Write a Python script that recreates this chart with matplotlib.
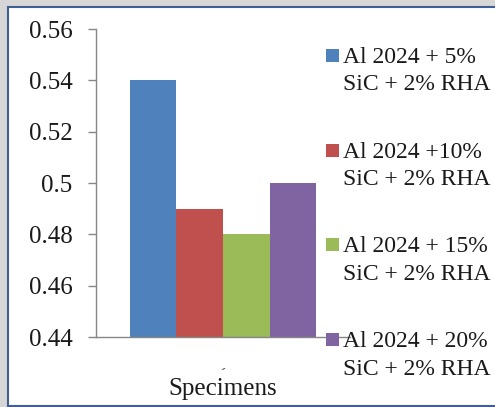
import numpy as np
import matplotlib.pyplot as plt
from matplotlib.patches import Rectangle
from matplotlib.ticker import FormatStrFormatter

# bar heights for the four composites
labels = ["Al 2024 + 5%\nSiC + 2% RHA",
          "Al 2024 +10%\nSiC + 2% RHA",
          "Al 2024 + 15%\nSiC + 2% RHA",
          "Al 2024 + 20%\nSiC + 2% RHA"]
values = [0.54, 0.49, 0.48, 0.50]
colors = ["#4F81BD", "#C0504D", "#9BBB59", "#8064A2"]
yticks = [0.44, 0.46, 0.48, 0.50, 0.52, 0.54, 0.56]

serif = ['Liberation Serif', 'DejaVu Serif']
plt.rcParams['font.family'] = serif

W, H = 495, 407
fig = plt.figure(figsize=(W / 100, H / 100), dpi=100)
fig.patch.set_facecolor('#d6d6d6')

# white chart frame with a thin blue border
frame = Rectangle((8 / W, 1 - 406 / H), 1.2, (406 - 7) / H, transform=fig.transFigure,
                  facecolor='white', edgecolor='#3f5f94', linewidth=1.5, zorder=-5)
fig.patches.append(frame)

ax = fig.add_axes([96 / W, 1 - 337 / H, 254 / W, 308 / H])
ax.set_facecolor('none')

n = len(values)
bw = 0.733 / n
x = np.arange(n) * bw - 0.733 / 2 + bw / 2
bars = ax.bar(x, values, width=bw, color=colors, zorder=2)

ax.set_xlim(-0.5, 0.5)
ax.set_ylim(0.44, 0.56)
ax.set_yticks(yticks)
ax.yaxis.set_major_formatter(FormatStrFormatter('%g'))
ax.tick_params(axis='y', length=6, width=1, color='#868686', pad=11,
               labelsize=18, labelcolor='#1a1a1a', labelfontfamily=serif)
ax.set_xticks([0], ['-'])
ax.tick_params(axis='x', length=0, labelsize=9, pad=19, labelcolor='#333333')
for lab in ax.get_xticklabels():
    lab.set_rotation(20)

for s in ['top', 'right']:
    ax.spines[s].set_visible(False)
for s in ['left', 'bottom']:
    ax.spines[s].set_color('#868686')
    ax.spines[s].set_linewidth(1)

fig.text(223 / W, 1 - 395 / H, 'Specimens', ha='center', va='baseline',
         fontsize=18, color='#1a1a1a')

# legend drawn by hand: square swatch next to the first line of each label
for i, (lab, bar) in enumerate(zip(labels, bars)):
    yc = 55.5 + i * 94.7
    sw = Rectangle((326 / W, 1 - (yc + 6.5) / H), 13 / W, 13 / H,
                   transform=fig.transFigure, facecolor=bar.get_facecolor(),
                   edgecolor='none', zorder=3)
    fig.patches.append(sw)
    fig.text(343 / W, 1 - (90.5 + i * 94.7) / H, lab, ha='left', va='baseline',
             fontsize=17, color='#1a1a1a', linespacing=1.4)

fig.savefig('out.png', dpi=100, facecolor=fig.get_facecolor())
